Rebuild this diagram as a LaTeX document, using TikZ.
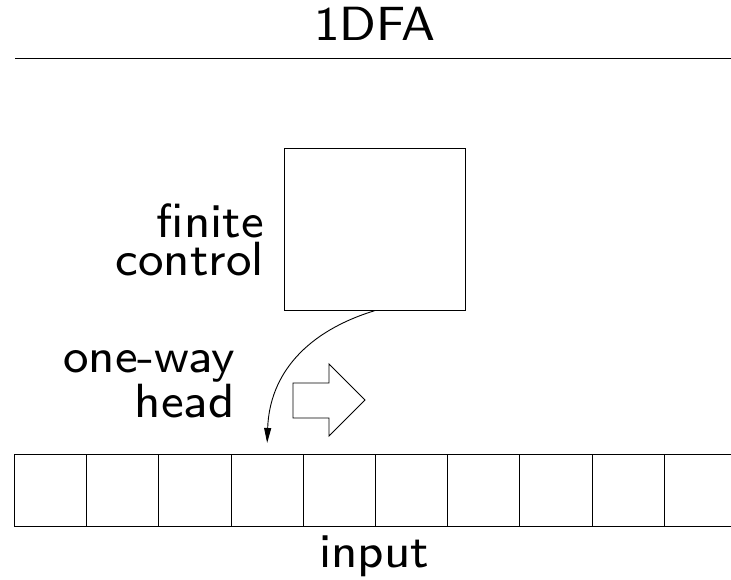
\documentclass[tikz,border=0pt]{standalone}
\usepackage{fontspec}
\newfontfamily\labelfont{lmsans8-regular.otf}
\usetikzlibrary{arrows.meta}
\begin{document}
\begin{tikzpicture}[x=1pt,y=-1pt,
  lbl/.style={font=\labelfont\fontsize{48}{37}\selectfont, inner sep=0pt},
  cell/.style={draw, line width=0.9pt, minimum width=72.2pt, minimum height=72pt,
               inner sep=0pt, anchor=north west},
  ctrl/.style={draw, line width=0.9pt, minimum width=181pt, minimum height=162pt, inner sep=0pt},
  thin/.style={line width=0.9pt}]
  \useasboundingbox (0,0) rectangle (731,580);

  % heading and rule
  \node[lbl, anchor=base] (title) at (375,40.7) {1DFA};
  \coordinate (ruleL) at (15,58.3);
  \coordinate (ruleR) at (731,58.3);
  \draw[line width=1pt] (ruleL) -- (ruleR);

  % finite control box
  \node[ctrl] (fc) at (374.5,229.3) {};
  \node[lbl, anchor=base east, align=right] (fclabel) at (264,275) {finite\\control};

  % input tape
  \foreach \i in {1,...,10} {
    \node[cell] (c\i) at ({14+72.2*(\i-1)},454) {};
  }
  \node[lbl, anchor=base] (inlabel) at (374,567) {input};

  % head label
  \node[lbl, anchor=base east, align=right, font=\labelfont\fontsize{48}{42}\selectfont]
    (hdlabel) at (235,417) {one-way\\head};

  % reading head pointer
  \coordinate (tip) at ([yshift=11pt]c4.north);
  \draw[thin, -{Triangle[length=15pt,width=7pt]}]
    (fc.south) to[out=197, in=88, looseness=1.05] (tip);

  % direction of motion
  \draw[thin] (293,383) -- (329,383) -- (329,364) -- (365,400)
    -- (329,436) -- (329,418) -- (293,418) -- cycle;
\end{tikzpicture}
\end{document}
